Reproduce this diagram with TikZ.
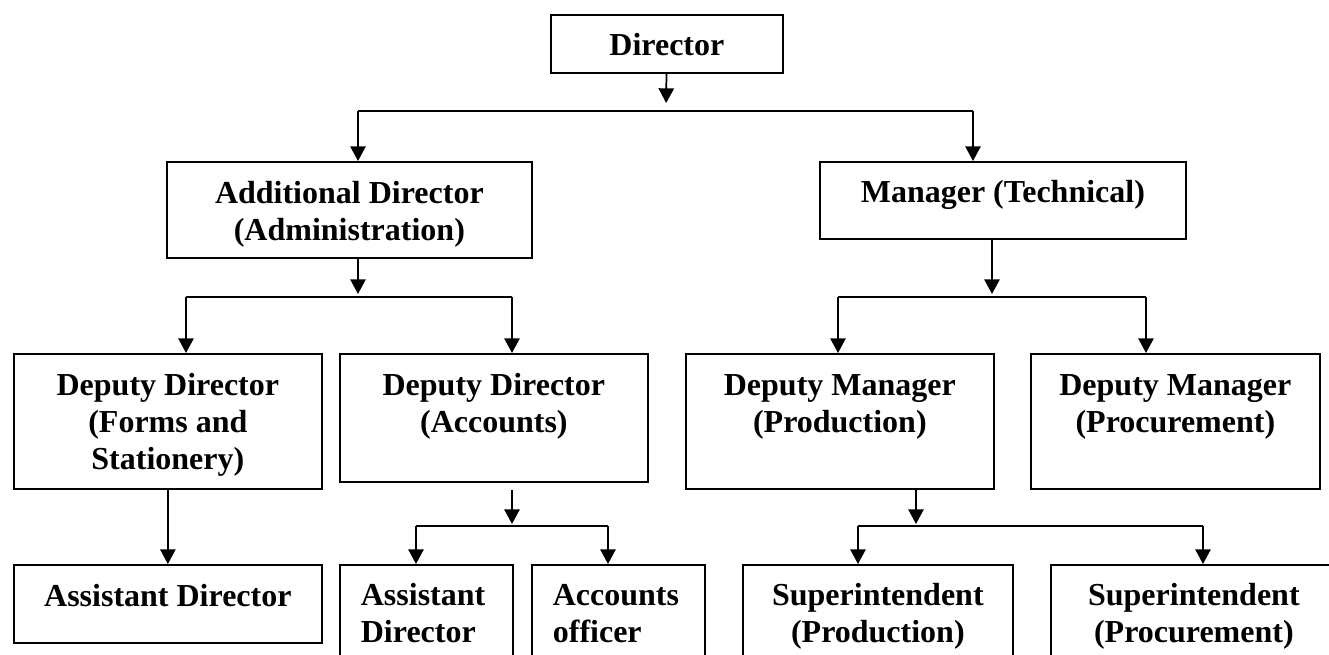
\documentclass[tikz,border=0pt]{standalone}
\usepackage{fontspec}
\setmainfont{Liberation Serif}
\usetikzlibrary{arrows.meta}

% box text: width, height, alignment, top-to-baseline, lines
\newcommand{\boxtext}[5]{\parbox[t][#2][t]{#1}{#3\rule{0pt}{#4}#5}}
\newcommand{\padleft}{\raggedright\leftskip=15.75pt }

\begin{document}
\begin{tikzpicture}[x=0.75pt,y=0.75pt,yscale=-1,xscale=1,
  orgbox/.style={draw, line width=1.3pt, inner sep=0pt, anchor=north west,
    font=\bfseries\fontsize{24}{27.75}\selectfont},
  link/.style={line width=1.3pt},
  arr/.style={link, -{Triangle[length=11pt,width=11.5pt]}}]
\useasboundingbox (0,0) rectangle (1329,655);
\clip (0,0) rectangle (1329,655);

%Shape: Rectangle [id:dir]
\node [orgbox] (dir) at (550,14) {\boxtext{174pt}{43.5pt}{\centering}{30.75pt}{Director}};
%Shape: Rectangle [id:addl]
\node [orgbox] (addl) at (166,161) {\boxtext{273.75pt}{72pt}{\centering}{31.5pt}{Additional Director\\(Administration)}};
%Shape: Rectangle [id:mgr]
\node [orgbox] (mgr) at (819,161) {\boxtext{274.5pt}{57.75pt}{\centering}{30.75pt}{Manager (Technical)}};

%Shape: Rectangle [id:ddf]
\node [orgbox] (ddf) at (13,353) {\boxtext{231pt}{101.25pt}{\centering}{31.5pt}{Deputy Director\\(Forms and\\Stationery)}};
%Shape: Rectangle [id:dda]
\node [orgbox] (dda) at (339,353) {\boxtext{231pt}{96pt}{\centering}{31.5pt}{Deputy Director\\(Accounts)}};
%Shape: Rectangle [id:dmp]
\node [orgbox] (dmp) at (685,353) {\boxtext{231pt}{101.25pt}{\centering}{31.5pt}{Deputy Manager\\(Production)}};
%Shape: Rectangle [id:dmq]
\node [orgbox] (dmq) at (1030,353) {\boxtext{216.75pt}{101.25pt}{\centering}{31.5pt}{Deputy Manager\\(Procurement)}};

%Shape: Rectangle [id:ad1]
\node [orgbox] (ad1) at (13,564) {\boxtext{231pt}{58.5pt}{\centering}{31.5pt}{Assistant Director}};
%Shape: Rectangle [id:ad2]
\node [orgbox] (ad2) at (339,564) {\boxtext{129.75pt}{102pt}{\padleft}{30.75pt}{Assistant\\Director}};
%Shape: Rectangle [id:ao]
\node [orgbox] (ao) at (531,564) {\boxtext{129.75pt}{102pt}{\padleft}{30.75pt}{Accounts\\officer}};
%Shape: Rectangle [id:sp]
\node [orgbox] (sp) at (742,564) {\boxtext{202.5pt}{102pt}{\centering}{30.75pt}{Superintendent\\(Production)}};
%Shape: Rectangle [id:sq]
\node [orgbox] (sq) at (1050,564) {\boxtext{214.5pt}{102pt}{\centering}{30.75pt}{Superintendent\\(Procurement)}};

% Bus points
\coordinate (b1a) at (358,111);
\coordinate (b1m) at (666,111);
\coordinate (b1b) at (973,111);
\coordinate (b2a) at (186,297);
\coordinate (b2m) at (358,297);
\coordinate (b2b) at (512,297);
\coordinate (b3a) at (838,297);
\coordinate (b3m) at (992,297);
\coordinate (b3b) at (1146,297);
\coordinate (b4a) at (416,526);
\coordinate (b4m) at (512,526);
\coordinate (b4b) at (608,526);
\coordinate (b5a) at (858,526);
\coordinate (b5m) at (916,526);
\coordinate (b5b) at (1203,526);

%Straight Lines [id:director]
\draw [arr, shorten >=6pt] (dir) -- (b1m);
\draw [link] (b1a) -- (b1b);
\draw [arr] (b1a) -- (b1a |- addl.north);
\draw [arr] (b1b) -- (b1b |- mgr.north);

%Straight Lines [id:additional]
\draw [arr, shorten >=2.25pt] (b2m |- addl.south) -- (b2m);
\draw [link] (b2a) -- (b2b);
\draw [arr] (b2a) -- (b2a |- ddf.north);
\draw [arr] (b2b) -- (b2b |- dda.north);

%Straight Lines [id:manager]
\draw [arr, shorten >=2.25pt] (b3m |- mgr.south) -- (b3m);
\draw [link] (b3a) -- (b3b);
\draw [arr] (b3a) -- (b3a |- dmp.north);
\draw [arr] (b3b) -- (b3b |- dmq.north);

%Straight Lines [id:forms]
\draw [arr] (ddf) -- (ad1);

%Straight Lines [id:accounts]
\draw [arr, shorten <=5.25pt, shorten >=1.5pt] (b4m |- dda.south) -- (b4m);
\draw [link] (b4a) -- (b4b);
\draw [arr] (b4a) -- (b4a |- ad2.north);
\draw [arr] (b4b) -- (b4b |- ao.north);

%Straight Lines [id:production]
\draw [arr, shorten >=1.5pt] (b5m |- dmp.south) -- (b5m);
\draw [link] (b5a) -- (b5b);
\draw [arr] (b5a) -- (b5a |- sp.north);
\draw [arr] (b5b) -- (b5b |- sq.north);

\end{tikzpicture}
\end{document}
